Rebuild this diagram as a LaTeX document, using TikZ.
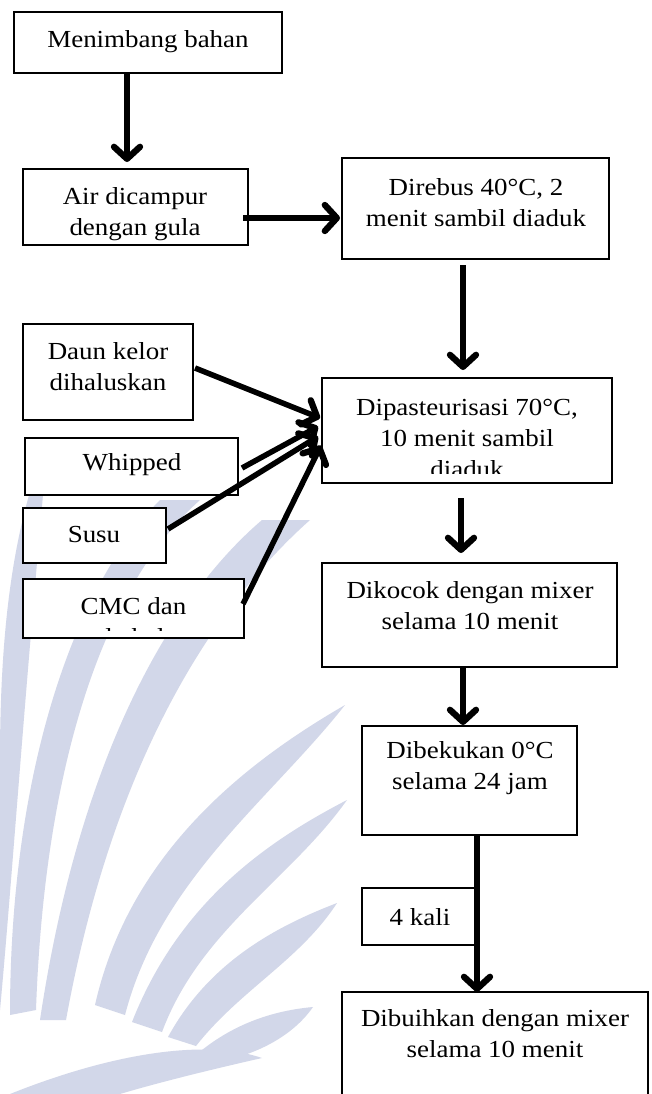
\documentclass[tikz,border=0pt]{standalone}
\usepackage{fontspec}
\setmainfont{Liberation Serif}[FakeStretch=1.1]
\usetikzlibrary{arrows.meta,calc}
\definecolor{wm}{RGB}{210,215,233}
\tikzset{
  box/.style={draw, line width=1.8pt, fill=white, inner sep=0pt, outer sep=0pt},
  txt/.style={align=center, inner sep=0pt, font=\fontsize{24.5}{31}\selectfont},
  arr/.style={line width=5.5pt, -{Straight Barb[length=12pt,width=26pt,line width=0pt 1.15,round]}},
  wmark/.style={fill=wm, draw=none}
}
\begin{document}
\begin{tikzpicture}[x=1pt,y=-1pt]
\useasboundingbox (0,0) rectangle (652,1094);
\fill[white] (0,0) rectangle (652,1094);
% watermark
\fill[wmark] (48,440) .. controls (15,520) and (0,620) .. (0,760) -- (0,1010) .. controls (12,880) and (24,700) .. (48,440) -- cycle;
\fill[wmark] (200,500) .. controls (110,580) and (45,750) .. (36,1010) -- (10,1015) .. controls (10,760) and (80,580) .. (160,500) -- cycle;
\fill[wmark] (310,520) .. controls (220,600) and (115,750) .. (66,1020) -- (40,1020) .. controls (82,740) and (180,590) .. (262,520) -- cycle;
\fill[wmark] (95,1005) .. controls (130,850) and (250,760) .. (345,705) .. controls (270,800) and (160,880) .. (125,1015) -- cycle;
\fill[wmark] (132,1022) .. controls (180,900) and (270,840) .. (347,800) .. controls (290,880) and (200,930) .. (162,1032) -- cycle;
\fill[wmark] (168,1037) .. controls (210,960) and (280,925) .. (337,903) .. controls (300,960) and (240,990) .. (196,1046) -- cycle;
\fill[wmark] (202,1050) .. controls (240,1020) and (280,1010) .. (313,1007) .. controls (290,1040) and (250,1055) .. (226,1060) -- cycle;
\fill[wmark] (10,1094) .. controls (120,1050) and (210,1040) .. (262,1058) .. controls (200,1072) and (150,1085) .. (120,1094) -- cycle;
% boxes
\node[box, minimum width=268, minimum height=61] (b1) at (148,42.5) {};
\node[box, minimum width=225, minimum height=76] (b2) at (135.5,207) {};
\node[box, minimum width=267, minimum height=101] (b3) at (475.5,208.5) {};
\node[box, minimum width=290, minimum height=105] (b4) at (467,430.5) {};
\node[box, minimum width=295, minimum height=104] (b5) at (469.5,615) {};
\node[box, minimum width=215, minimum height=109] (b6) at (469.5,780.5) {};
\node[box, minimum width=306, minimum height=116] (b7) at (495,1050) {};
\node[box, minimum width=113, minimum height=57] (bk) at (418.5,916.5) {};
\node[box, minimum width=170, minimum height=96] (daun) at (108,372) {};
\node[box, minimum width=213, minimum height=57] (whip) at (131.5,466.5) {};
\node[box, minimum width=143, minimum height=55] (susu) at (94.5,535.5) {};
\node[box, minimum width=221, minimum height=59] (cmc) at (133.5,608.5) {};
% texts
\node[txt] (t1) at (148,41.5) {Menimbang bahan};
\node[txt] (t2) at (135,214) {Air dicampur\\dengan gula};
\node[txt] (t3) at (476,203) {Direbus 40°C, 2\\menit sambil diaduk};
\begin{scope}
\clip (300,370) rectangle (620,473);
\node[txt] (t4) at (467,438) {Dipasteurisasi 70°C,\\10 menit sambil\\diaduk};
\end{scope}
\node[txt] (t5) at (470,606) {Dikocok dengan mixer\\selama 10 menit};
\node[txt] (t6) at (470,768.5) {Dibekukan 0°C\\selama 24 jam};
\node[txt] (tk) at (420,917.5) {4 kali};
\node[txt] (t7) at (495,1034) {Dibuihkan dengan mixer\\selama 10 menit};
\node[txt] (td) at (108,366.5) {Daun kelor\\dihaluskan};
\node[txt] (tw) at (132,465) {Whipped};
\node[txt] (ts) at (94,535) {Susu};
\begin{scope}
\clip (20,575) rectangle (250,630.5);
\node[txt] (tc) at (133.5,624) {CMC dan\\gula halus};
\end{scope}
% helper coordinates
\coordinate (c1) at (127,0);
\coordinate (y2) at (0,218);
\coordinate (c3) at (463,0);
\coordinate (c4) at (461,0);
\coordinate (c5) at (463,0);
\coordinate (c6) at (477,0);
% arrows
\draw[arr, shorten >=7pt] (c1 |- b1.south) -- (c1 |- b2.north);
\draw[arr, shorten >=2pt] ($(b2.east |- y2)+(-5,0)$) -- (b3.west |- y2);
\draw[arr, shorten <=6pt, shorten >=8pt] (c3 |- b3.south) -- (c3 |- b4.north);
\draw[arr, shorten <=15pt, shorten >=10pt] (c4 |- b4.south) -- (c4 |- b5.north);
\draw[arr, shorten >=1pt] (c5 |- b5.south) -- (c5 |- b6.north);
\draw[arr] (c6 |- b6.south) -- (c6 |- b7.north);
\draw[arr] ($(daun.east)+(2,-4)$) -- ($(b4.west)+(-2,-12.5)$);
\draw[arr] ($(whip.east)+(4,1.5)$) -- ($(b4.west)+(-4,-4)$);
\draw[arr] ($(susu.east)+(2,-6.5)$) -- ($(b4.west)+(-4,6)$);
\draw[arr] ($(cmc.east)+(-1,-4.5)$) -- ($(b4.west)+(-1,15)$);
\end{tikzpicture}
\end{document}
